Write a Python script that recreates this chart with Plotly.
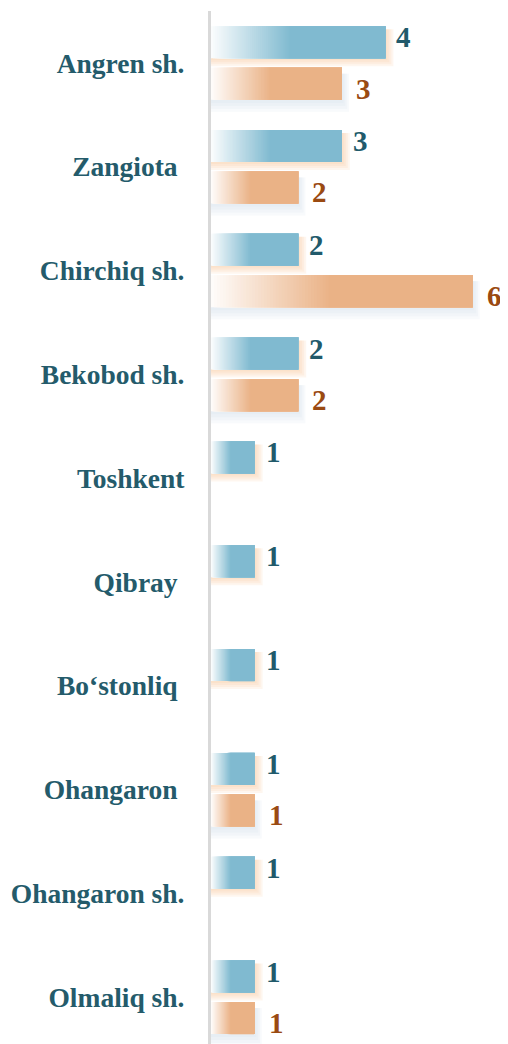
import plotly.graph_objects as go

categories = ["Angren sh.", "Zangiota ", "Chirchiq sh.", "Bekobod sh.", "Toshkent",
              "Qibray ", "Bo‘stonliq ", "Ohangaron ", "Ohangaron sh.", "Olmaliq sh."]
series_a = [4, 3, 2, 2, 1, 1, 1, 1, 1, 1]
series_b = [3, 2, 6, 2, None, None, None, 1, None, 1]

BLUE = (128, 186, 208)
ORANGE = (234, 178, 134)
BLUE_TXT = "#215a6b"
ORANGE_TXT = "#9a4a12"
LABEL_TXT = "#245b6b"
FONT = "Liberation Serif, Times New Roman, serif"

PXY = 1 / 103.8   # y units per pixel
PXX = 1 / 43.6    # x units per pixel
BAR_W = 32 * PXY
CENTER_OFF = 0.2

ypos = list(range(len(categories)))
fig = go.Figure()


def add_series(vals, rgb, center, shadow_kind):
    ys = [y for y, v in zip(ypos, vals) if v is not None]
    vs = [v for v in vals if v is not None]
    top_off = center - BAR_W / 2
    # soft shadows built from several translucent layers
    if shadow_kind == "glow":
        for g in [2, 4, 6, 8]:
            fig.add_trace(go.Bar(
                y=ys, x=[v + g * PXX for v in vs], base=0, orientation="h",
                offset=top_off + 3 * PXY, width=BAR_W + (g - 3) * PXY,
                marker=dict(color="rgba(250,196,158,0.16)", line=dict(width=0)),
                hoverinfo="skip", showlegend=False))
    else:
        for g in [3, 6, 9, 12]:
            fig.add_trace(go.Bar(
                y=ys, x=[v + g * 0.6 * PXX for v in vs], base=0, orientation="h",
                offset=top_off + 6 * PXY, width=BAR_W + (g - 6) * PXY,
                marker=dict(color="rgba(205,218,235,0.14)", line=dict(width=0)),
                hoverinfo="skip", showlegend=False))
    # gradient bar built from overlapping segments
    n = 40
    stop = 0.45
    for i in range(n + 1):
        f = i / n
        s = stop * f
        r = [round(255 + (c - 255) * (0.04 + 0.96 * f)) for c in rgb]
        fig.add_trace(go.Bar(
            y=ys, x=[v * (1 - s) for v in vs], base=[v * s for v in vs], orientation="h",
            offset=top_off, width=BAR_W,
            marker=dict(color=f"rgb({r[0]},{r[1]},{r[2]})", line=dict(width=0)),
            hoverinfo="skip", showlegend=False))
    return ys, vs


ya, va = add_series(series_a, BLUE, -CENTER_OFF, "glow")
yb, vb = add_series(series_b, ORANGE, CENTER_OFF, "shadow")

for y, v in zip(ya, va):
    fig.add_annotation(x=v, y=y - CENTER_OFF, text=str(v), showarrow=False,
                       xanchor="left", xshift=9, yshift=5,
                       font=dict(family=FONT, size=29, color=BLUE_TXT, weight="bold"))
for y, v in zip(yb, vb):
    fig.add_annotation(x=v, y=y + CENTER_OFF, text=str(v), showarrow=False,
                       xanchor="left", xshift=12, yshift=-5,
                       font=dict(family=FONT, size=29, color=ORANGE_TXT, weight="bold"))

fig.update_layout(
    width=500, height=1036,
    margin=dict(l=203, r=0, t=3, b=0),
    paper_bgcolor="white", plot_bgcolor="white",
    barmode="overlay", showlegend=False,
    xaxis=dict(range=[0, 297 * PXX], visible=False, fixedrange=True),
    yaxis=dict(range=[9.45, -0.5], tickmode="array", tickvals=ypos,
               ticktext=[c.replace(" ", "\u00a0") if c.endswith(" ") else c for c in categories],
               showgrid=False, zeroline=False, showline=True, linecolor="#d9d9d9", linewidth=3,
               ticks="", ticklabelstandoff=18,
               tickfont=dict(family=FONT, size=27.5, color=LABEL_TXT, weight="bold")),
)

fig.write_html("out.html")
